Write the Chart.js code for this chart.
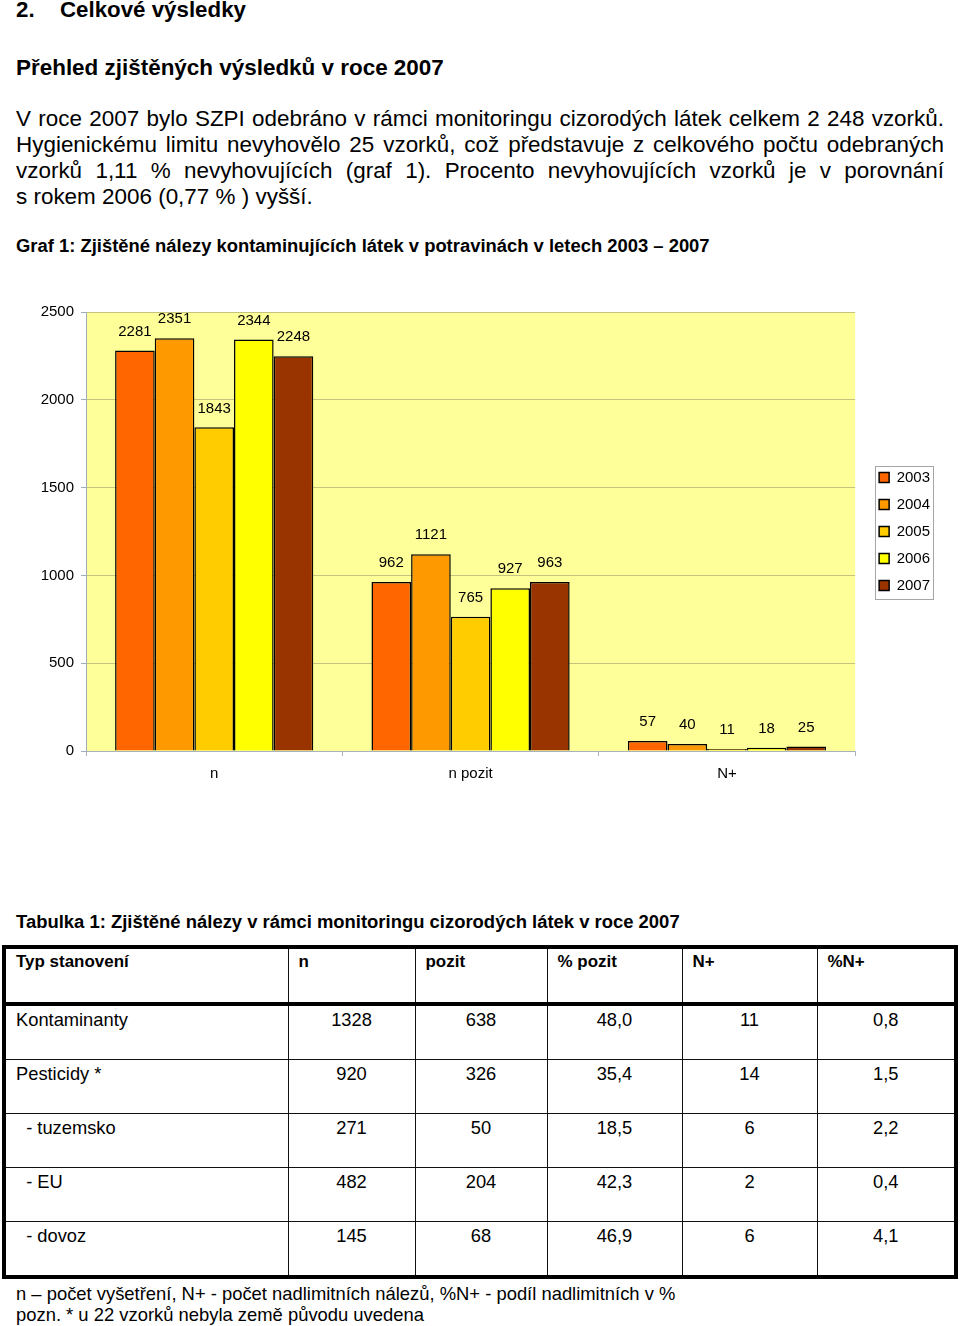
<!DOCTYPE html>
<html>
<head>
<meta charset="utf-8">
<title>Celkové výsledky</title>
<script src="https://cdn.jsdelivr.net/npm/chart.js@4.4.1/dist/chart.umd.min.js"></script>
<style>
    body { margin: 0; background: #fff; font-family: "Liberation Sans", Arial, sans-serif; color: #000; }
    #page { position: relative; width: 960px; height: 1326px; overflow: hidden; }
    .ln { position: absolute; left: 16px; white-space: nowrap; }
    .b { font-weight: bold; }
    #para { position: absolute; left: 16px; top: 106px; width: 928px; line-height: 26px; }
    #para div { text-align: justify; text-align-last: justify; }
    #para div.last { text-align: left; text-align-last: left; }
    #chartBox { position: absolute; left: 0; top: 290px; width: 960px; height: 510px; }
    table { position: absolute; left: 2px; top: 945px; width: 952px; border-collapse: collapse; table-layout: fixed; border: 4px solid #000; }
    th, td { border: 1.5px solid #111; vertical-align: top; padding: 3px 0 0 0; }
    th { text-align: left; padding-left: 10px; border-bottom: 4px solid #000; }
    td { text-align: center; }
    td.name { text-align: left; padding-left: 10px; }
</style>
</head>
<body>
<div id="page">
    <div class="ln b" id="h1" style="top:-3px;line-height:26px;"><span>2.</span><span id="h1t" style="position:absolute;left:44px;">Celkové výsledky</span></div>
    <div class="ln b" id="h2" style="top:55px;line-height:26px;">Přehled zjištěných výsledků v roce 2007</div>
    <div id="para">
        <div>V roce 2007 bylo SZPI odebráno v rámci monitoringu cizorodých látek celkem 2 248 vzorků.</div>
        <div>Hygienickému limitu nevyhovělo 25 vzorků, což představuje z celkového počtu odebraných</div>
        <div>vzorků 1,11 % nevyhovujících (graf 1). Procento nevyhovujících vzorků je v porovnání</div>
        <div class="last"><span id="pLast">s rokem 2006 (0,77 % ) vyšší.</span></div>
    </div>
    <div class="ln b" id="graf" style="top:235px;line-height:22px;">Graf 1: Zjištěné nálezy kontaminujících látek v potravinách v letech 2003 – 2007</div>
    <div id="chartBox"><canvas id="bar-chart"></canvas></div>
    <div class="ln b" id="tab" style="top:911px;line-height:22px;">Tabulka 1: Zjištěné nálezy v rámci monitoringu cizorodých látek v roce 2007</div>
    <table id="tbl">
        <colgroup>
            <col style="width:284px"><col style="width:127px"><col style="width:132px">
            <col style="width:135px"><col style="width:135px"><col style="width:139px">
        </colgroup>
        <tr style="height:57px"><th id="thFirst">Typ stanovení</th><th>n</th><th>pozit</th><th>% pozit</th><th>N+</th><th>%N+</th></tr>
        <tr style="height:55px"><td class="name"><span id="tdFirst">Kontaminanty</span></td><td>1328</td><td>638</td><td>48,0</td><td>11</td><td>0,8</td></tr>
        <tr style="height:54px"><td class="name">Pesticidy *</td><td>920</td><td>326</td><td>35,4</td><td>14</td><td>1,5</td></tr>
        <tr style="height:54px"><td class="name">&nbsp;&nbsp;- tuzemsko</td><td>271</td><td>50</td><td>18,5</td><td>6</td><td>2,2</td></tr>
        <tr style="height:54px"><td class="name">&nbsp;&nbsp;- EU</td><td>482</td><td>204</td><td>42,3</td><td>2</td><td>0,4</td></tr>
        <tr style="height:56px"><td class="name">&nbsp;&nbsp;- dovoz</td><td>145</td><td>68</td><td>46,9</td><td>6</td><td>4,1</td></tr>
    </table>
    <div class="ln" id="fn1" style="top:1283px;line-height:22px;">n – počet vyšetření, N+ - počet nadlimitních nálezů, %N+ - podíl nadlimitních v %</div>
    <div class="ln" id="fn2" style="top:1304px;line-height:22px;">pozn. * u 22 vzorků nebyla země původu uvedena</div>
</div>
<script>
    // chart data (Graf 1)
    var categories = ["n", "n pozit", "N+"];
    var years = ["2003", "2004", "2005", "2006", "2007"];
    var values2003 = [2281, 962, 57];
    var values2004 = [2351, 1121, 40];
    var values2005 = [1843, 765, 11];
    var values2006 = [2344, 927, 18];
    var values2007 = [2248, 963, 25];
    var yearColors = ["#FF6600", "#FF9900", "#FFCC00", "#FFFF00", "#993300"];

    // scale text so each line has the width it has in the scan
    function fitWidth(el, target) {
        el.style.fontSize = "20px";
        var w = el.getBoundingClientRect().width;
        var size = 20 * target / w;
        el.style.fontSize = size + "px";
        return size;
    }
    var hs = fitWidth(document.getElementById("h1t"), 186);
    document.getElementById("h1").style.fontSize = hs + "px";
    fitWidth(document.getElementById("h2"), 428);
    var ps = fitWidth(document.getElementById("pLast"), 297);
    document.getElementById("para").style.fontSize = ps + "px";
    document.getElementById("pLast").style.fontSize = "";
    fitWidth(document.getElementById("graf"), 694);
    fitWidth(document.getElementById("tab"), 664);
    var fs = fitWidth(document.getElementById("fn1"), 660);
    document.getElementById("fn2").style.fontSize = fs + "px";
    var th = document.getElementById("thFirst");
    th.style.display = "inline-block";
    var ths = fitWidth(th, 123);
    th.style.display = "";
    th.style.fontSize = "";
    var tds = fitWidth(document.getElementById("tdFirst"), 112);
    document.getElementById("tdFirst").style.fontSize = "";
    document.querySelectorAll("#tbl th").forEach(function (c) { c.style.fontSize = ths + "px"; });
    document.querySelectorAll("#tbl td").forEach(function (c) { c.style.fontSize = tds + "px"; });

    Chart.defaults.font.family = "'Liberation Sans', Arial, sans-serif";
    Chart.defaults.font.size = 15;
    Chart.defaults.color = "#000";

    var series = [values2003, values2004, values2005, values2006, values2007];
    var datasets = [];
    for (var i = 0; i < years.length; i++) {
        datasets.push({
            label: years[i],
            data: series[i],
            backgroundColor: yearColors[i],
            borderColor: "#000",
            borderWidth: 1.5,
            categoryPercentage: 0.773,
            barPercentage: 1
        });
    }

    // yellow plot area
    var plotBg = {
        id: "plotBg",
        beforeDraw: function (chart) {
            var a = chart.chartArea;
            var c = chart.ctx;
            c.save();
            c.fillStyle = "#FFFF99";
            c.fillRect(a.left, a.top, a.right - a.left, a.bottom - a.top);
            c.restore();
        }
    };

    // numbers above the bars
    var barValues = {
        id: "barValues",
        afterDatasetsDraw: function (chart) {
            var c = chart.ctx;
            c.save();
            c.font = "15px 'Liberation Sans', Arial, sans-serif";
            c.fillStyle = "#000";
            c.textAlign = "center";
            c.textBaseline = "middle";
            chart.data.datasets.forEach(function (ds, di) {
                chart.getDatasetMeta(di).data.forEach(function (bar, j) {
                    c.fillText(String(ds.data[j]), bar.x, bar.y - 19);
                });
            });
            c.restore();
        }
    };

    // thin frame round the legend
    var legendFrame = {
        id: "legendFrame",
        afterDraw: function (chart) {
            var boxes = chart.legend.legendHitBoxes;
            if (!boxes || !boxes.length) return;
            var left = boxes[0].left - 4;
            var right = 0;
            boxes.forEach(function (b) { right = Math.max(right, b.left + b.width); });
            var top = boxes[0].top - 4;
            var last = boxes[boxes.length - 1];
            var bottom = last.top + last.height + 6;
            var c = chart.ctx;
            c.save();
            c.strokeStyle = "#a6a6a6";
            c.lineWidth = 1;
            c.strokeRect(Math.round(left) + 0.5, Math.round(top) + 0.5, Math.round(right + 3 - left), Math.round(bottom - top));
            c.restore();
        }
    };

    var ctx = document.getElementById("bar-chart").getContext("2d");
    new Chart(ctx, {
        type: "bar",
        data: { labels: categories, datasets: datasets },
        options: {
            responsive: true,
            maintainAspectRatio: false,
            animation: false,
            layout: { padding: { left: 40, top: 22, right: 20, bottom: 8 } },
            plugins: {
                tooltip: { enabled: false },
                legend: {
                    position: "right",
                    fullSize: false,
                    labels: { boxWidth: 10, boxHeight: 10, padding: 12, font: { size: 15 }, color: "#000" }
                }
            },
            scales: {
                x: {
                    grid: { display: true, drawOnChartArea: false, drawTicks: true, tickLength: 5, color: "#a9b3bd" },
                    border: { color: "#a9b3bd", width: 1 },
                    ticks: { padding: 9, font: { size: 15 } }
                },
                y: {
                    min: 0,
                    max: 2500,
                    ticks: { stepSize: 500, padding: 7, font: { size: 15 }, callback: function (v) { return String(v); } },
                    grid: { color: "#c4c47e", tickColor: "#9fadbb", tickLength: 5 },
                    border: { color: "#9fadbb", width: 1 },
                    afterFit: function (s) { s.width = 46; }
                },
                gap: {
                    type: "linear",
                    position: "right",
                    display: true,
                    grid: { display: false },
                    border: { display: false },
                    ticks: { display: false },
                    afterFit: function (s) { s.width = 12; }
                }
            }
        },
        plugins: [plotBg, barValues, legendFrame]
    });
</script>
</body>
</html>
